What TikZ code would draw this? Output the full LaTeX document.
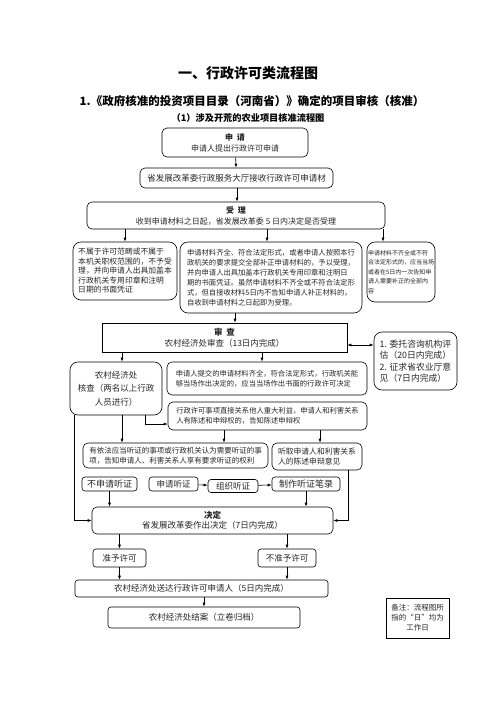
\documentclass[tikz,border=0pt]{standalone}
\usepackage{fontspec}
\setmainfont{Noto Sans CJK SC}
\usetikzlibrary{arrows.meta}
\newcommand{\fsz}[2]{\fontsize{#1}{#2}\selectfont}
\begin{document}
\begin{tikzpicture}[x=1pt,y=-1pt,
    box/.style={draw,rounded corners=5pt,line width=0.6pt,inner sep=1pt,align=center,text=black!85},
    sqbox/.style={draw,line width=0.6pt,inner sep=1pt,align=center,text=black!85},
    para/.style={box,align=left},
    arr/.style={-{Latex[length=4pt,width=3pt]},line width=0.6pt},
    dblarr/.style={{Latex[length=4pt,width=3pt]}-{Latex[length=4pt,width=3pt]},line width=0.6pt},
    every node/.style={font=\fsz{8}{10}}]
    \useasboundingbox (0,0) rectangle (496,702);
    \node[font=\bfseries\fsz{14}{16}] (title) at (248,73) {一、行政许可类流程图};
    \node[font=\bfseries\fsz{11.5}{13}] (sub1) at (252,101) {1.《政府核准的投资项目目录（河南省）》确定的项目审核（核准）};
    \node[font=\bfseries\fsz{9.2}{11}] (sub2) at (248,118) {（1）涉及开荒的农业项目核准流程图};
    \node[box,minimum width=146pt,minimum height=29pt,font=\fsz{8}{11}] (apply) at (235,142.5) {\textbf{申\ \ 请}\\申请人提出行政许可申请};
    \node[box,minimum width=193pt,minimum height=20pt,font=\fsz{8.5}{10}] (recv) at (236.5,178) {省发展改革委行政服务大厅接收行政许可申请材};
    \node[box,minimum width=298pt,minimum height=27pt,font=\fsz{8}{11}] (accept) at (236,215.5) {\textbf{受\ \ 理}\\收到申请材料之日起，省发展改革委 5 日内决定是否受理};
    \node[para,rounded corners=8pt,minimum width=104pt,minimum height=58pt,font=\fsz{7.8}{9.5}] (refuse) at (125,271) {不属于许可范畴或不属于\\本机关职权范围的，不予受\\理，并向申请人出具加盖本\\行政机关专用印章和注明\\日期的书面凭证};
    \node[para,rounded corners=8pt,minimum width=182pt,minimum height=71pt,font=\fsz{7.3}{10}] (ok) at (271,277.5) {申请材料齐全、符合法定形式，或者申请人按照本行\\政机关的要求提交全部补正申请材料的，予以受理，\\并向申请人出具加盖本行政机关专用印章和注明日\\期的书面凭证。虽然申请材料不齐全或不符合法定形\\式，但自接收材料5日内不告知申请人补正材料的，\\自收到申请材料之日起即为受理。};
    \node[para,rounded corners=8pt,minimum width=68pt,minimum height=60pt,font=\fsz{6}{9.6}] (lack) at (401,272) {申请材料不齐全或不符\\合法定形式的，应当当场\\或者在5日内一次告知申\\请人需要补正的全部内\\容};
    \node[sqbox,minimum width=245pt,minimum height=29pt,font=\fsz{8.5}{11}] (exam) at (224.5,337.5) {\textbf{审\ \ 查}\\农村经济处审查（13日内完成）};
    \node[para,rounded corners=8pt,minimum width=83pt,minimum height=58pt,font=\fsz{8.8}{11.5}] (consult) at (415.5,361) {1. 委托咨询机构评\\估（20日内完成）\\2. 征求省农业厅意\\见（7日内完成）};
    \node[box,rounded corners=8pt,minimum width=92pt,minimum height=53pt,font=\fsz{8.5}{13.5}] (check) at (116,388.5) {农村经济处\\核查（两名以上行政\\人员进行）};
    \node[para,minimum width=200pt,minimum height=33pt,font=\fsz{7.3}{10}] (spot) at (267,378.5) {申请人提交的申请材料齐全，符合法定形式，行政机关能\\够当场作出决定的，应当当场作出书面的行政许可决定};
    \node[para,minimum width=199pt,minimum height=28pt,font=\fsz{7.3}{10}] (notice) at (267.5,416) {行政许可事项直接关系他人重大利益，申请人和利害关系\\人有陈述和申辩权的，告知陈述申辩权};
    \node[para,minimum width=185pt,minimum height=25pt,font=\fsz{7.5}{10}] (hear) at (175.5,455.5) {有依法应当听证的事项或行政机关认为需要听证的事\\项，告知申请人、利害关系人享有要求听证的权利};
    \node[para,minimum width=90pt,minimum height=27pt,font=\fsz{7.8}{10}] (listen) at (317,456.5) {听取申请人和利害关系\\人的陈述申辩意见};
    \node[box,rounded corners=3pt,minimum width=55pt,minimum height=14pt,font=\fsz{9}{10}] (nohear) at (109.5,484) {不申请听证};
    \node[box,rounded corners=3pt,minimum width=49pt,minimum height=14pt,font=\fsz{8.5}{10}] (askhear) at (173.5,484) {申请听证};
    \node[box,rounded corners=3pt,minimum width=50pt,minimum height=13pt,font=\fsz{8.5}{10}] (dohear) at (233,486) {组织听证};
    \node[box,rounded corners=3pt,minimum width=68pt,minimum height=14pt,font=\fsz{9}{10}] (record) at (306,484) {制作听证笔录};
    \node[box,minimum width=241pt,minimum height=27pt,font=\fsz{8.5}{10}] (decide) at (212.5,520.5) {\textbf{决定}\\省发展改革委作出决定（7日内完成）};
    \node[box,rounded corners=3pt,minimum width=53pt,minimum height=18pt,font=\fsz{8.5}{10}] (grant) at (119.5,558) {准予许可};
    \node[box,rounded corners=3pt,minimum width=58pt,minimum height=18pt,font=\fsz{8.5}{10}] (deny) at (287,558) {不准予许可};
    \node[box,rounded corners=3pt,minimum width=253pt,minimum height=17pt,font=\fsz{8.5}{10}] (deliver) at (201.5,588.5) {农村经济处送达行政许可申请人（5日内完成）};
    \node[box,rounded corners=3pt,minimum width=192pt,minimum height=21pt,font=\fsz{8.5}{10}] (close) at (204,617.5) {农村经济处结案（立卷归档）};
    \node[sqbox,minimum width=63pt,minimum height=40pt,font=\fsz{7.5}{10}] (memo) at (417.5,618) {备注：流程图所\\指的“日”均为\\工作日};
    \draw[arr] (apply) -- (recv);
    \draw[arr] ([xshift=0.5pt]recv.south) -- ([xshift=1pt]accept.north);
    \draw[arr] (refuse.north |- accept.south) -- (refuse.north);
    \draw[arr] ([xshift=-4pt]ok.north |- accept.south) -- ([xshift=-4pt]ok.north);
    \draw[arr] ([xshift=-18pt]lack.north |- accept.south) -- ([xshift=-18pt]lack.north);
    \draw[arr] ([xshift=-36pt]ok.south) -- ([xshift=-36pt]ok.south |- exam.north);
    \draw[dblarr] ([yshift=-7.5pt]exam.east) -- ([yshift=-7.5pt]exam.east -| consult.west);
    \draw[arr] ([xshift=6pt]check.north |- exam.south) -- ([xshift=6pt]check.north);
    \draw[arr] ([xshift=-5pt]spot.north |- exam.south) -- ([xshift=-5pt]spot.north);
    \draw[arr] ([xshift=29pt]check.south) |- ([yshift=-8pt]notice.west);
    \draw[arr] ([xshift=6pt]check.south) -- ([xshift=6pt]check.south |- hear.north);
    \draw[arr] ([xshift=-42pt]check.south) |- (decide.west);
    \draw[arr] ([xshift=-43.5pt]notice.south) -- ([xshift=-43.5pt]notice.south |- hear.north);
    \draw[arr] ([xshift=52.5pt]notice.south) -- ([xshift=52.5pt]notice.south |- listen.north);
    \draw[arr] ([xshift=31pt]listen.south) |- (decide.east);
    \draw[arr] (askhear) -- (dohear);
    \draw[arr] (dohear) -- (record);
    \draw[arr] (nohear.south) -- (nohear.south |- decide.north);
    \draw[arr] (record.south) -- (record.south |- decide.north);
    \draw[arr] (grant.north |- decide.south) -- (grant.north);
    \draw[arr] (deny.north |- decide.south) -- (deny.north);
    \draw[arr] (grant.south) -- (grant.south |- deliver.north);
    \draw[arr] (deny.south) -- (deny.south |- deliver.north);
    \draw[arr] (deliver.south -| close.north) -- (close.north);
\end{tikzpicture}
\end{document}
